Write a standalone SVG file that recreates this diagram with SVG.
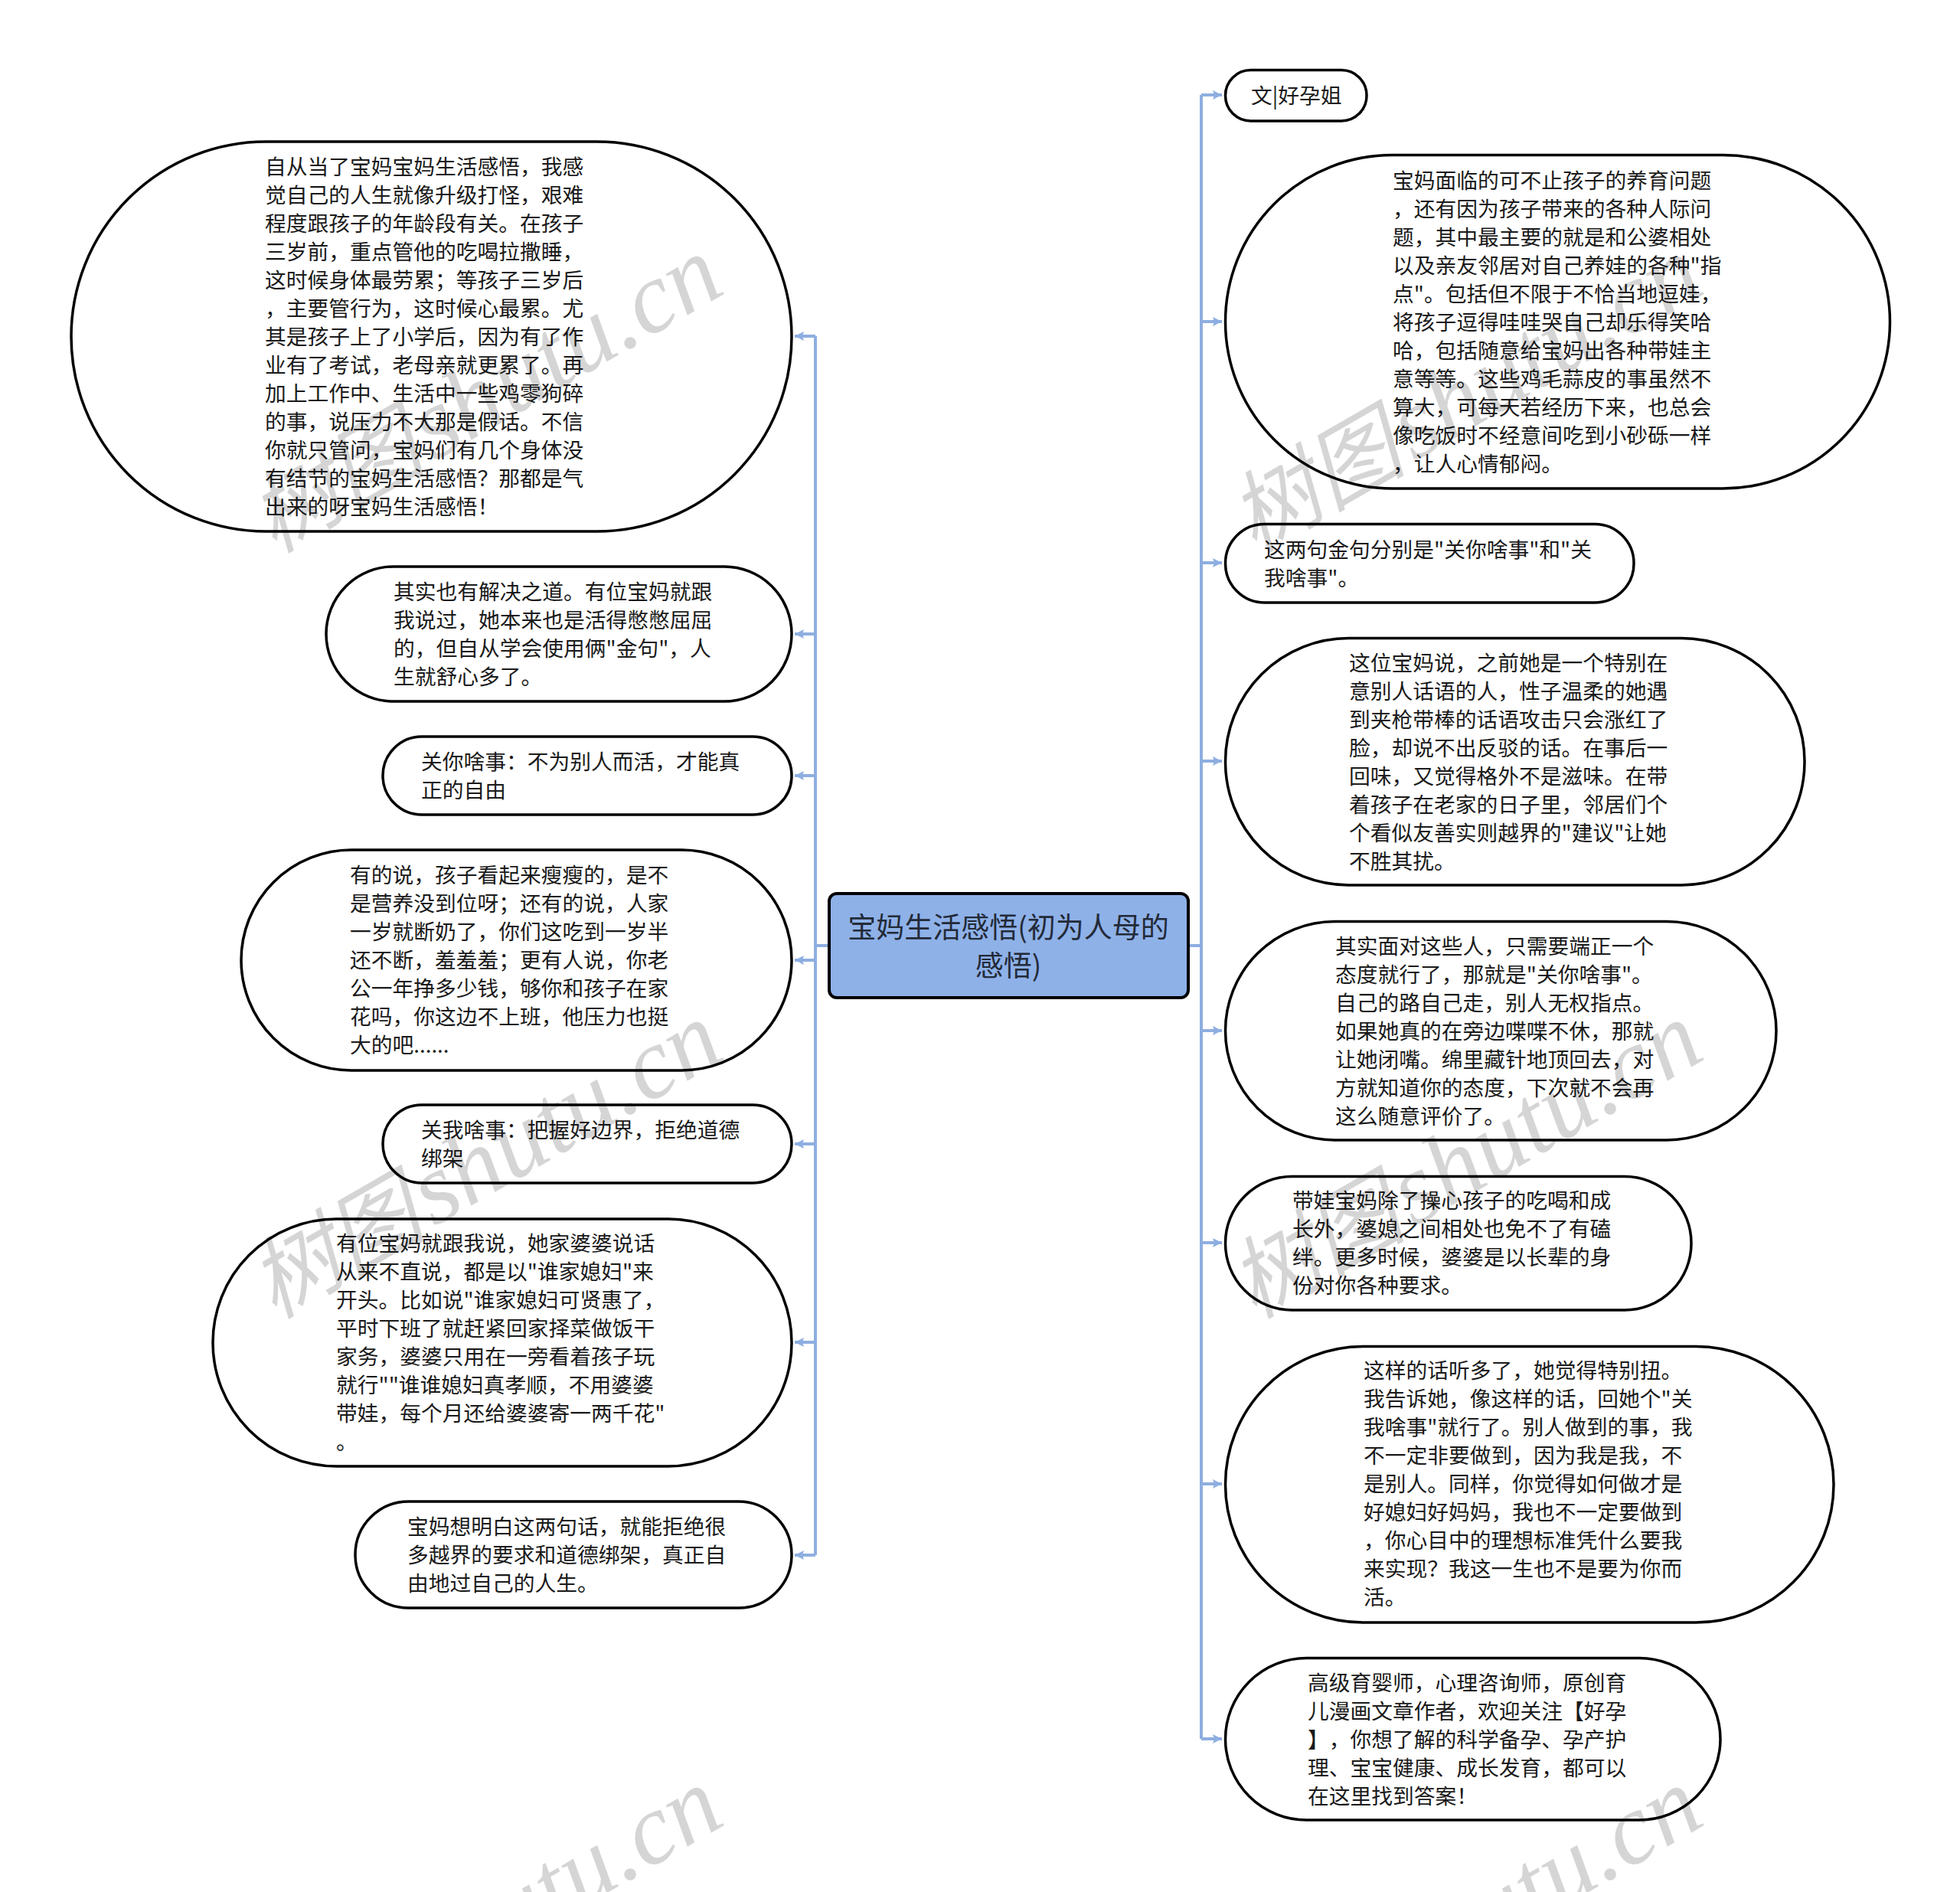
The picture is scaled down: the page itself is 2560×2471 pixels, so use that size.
<svg xmlns="http://www.w3.org/2000/svg" width="2560" height="2471" viewBox="0 0 2560 2471">
<style>
text{font-family:"Noto Sans CJK SC","Liberation Sans",sans-serif;text-spacing-trim:space-all;}
.n rect{fill:#fff;stroke:#000;stroke-width:3.5;}
.n text{font-size:27.75px;fill:#1a1a1a;transform:translateY(-1px);}
#root rect{fill:#8eb1e8;stroke:#000;stroke-width:4;}
#root text{font-size:37px;fill:#232a38;text-anchor:middle;}
#connectors path{fill:none;stroke:#8eaee0;stroke-width:4;}
#connectors path.a{marker-end:url(#ah);}
.wm text{font-family:"Liberation Serif","Noto Sans CJK SC",serif;font-style:italic;font-size:132px;fill:#000;fill-opacity:.165;text-anchor:end;}
.wm .c{font-size:116px;word-spacing:-20px;}
</style>
<defs><marker id="ah" markerUnits="userSpaceOnUse" markerWidth="14" markerHeight="14" refX="12" refY="7" orient="auto"><path d="M0 1L12 7L0 13L2 7Z" fill="#8eaee0"/></marker></defs>
<rect width="2560" height="2471" fill="#fff"/>
<g id="connectors">
<path d="M1082 1235H1065"/><path d="M1065 439V2031"/>
<path class="a" d="M1065 439H1038"/><path class="a" d="M1065 828H1038"/><path class="a" d="M1065 1013H1038"/><path class="a" d="M1065 1254H1038"/><path class="a" d="M1065 1494H1038"/><path class="a" d="M1065 1753H1038"/><path class="a" d="M1065 2031H1038"/>
<path d="M1552 1235H1569"/><path d="M1569 124V2271"/>
<path class="a" d="M1569 124H1596"/><path class="a" d="M1569 420H1596"/><path class="a" d="M1569 735H1596"/><path class="a" d="M1569 994H1596"/><path class="a" d="M1569 1346H1596"/><path class="a" d="M1569 1623H1596"/><path class="a" d="M1569 1938H1596"/><path class="a" d="M1569 2271H1596"/>
</g>
<g id="root"><rect x="1083" y="1167" width="469" height="136" rx="10"/><text x="1317" y="1224.5">宝妈生活感悟(初为人母的</text><text x="1317" y="1274.5">感悟)</text></g>
<g id="l1" class="n"><rect x="93" y="185" width="941" height="509" rx="254.5"/><text y="228.5"><tspan x="346">自从当了宝妈宝妈生活感悟，我感</tspan><tspan x="346" dy="37">觉自己的人生就像升级打怪，艰难</tspan><tspan x="346" dy="37">程度跟孩子的年龄段有关。在孩子</tspan><tspan x="346" dy="37">三岁前，重点管他的吃喝拉撒睡，</tspan><tspan x="346" dy="37">这时候身体最劳累；等孩子三岁后</tspan><tspan x="346" dy="37">，主要管行为，这时候心最累。尤</tspan><tspan x="346" dy="37">其是孩子上了小学后，因为有了作</tspan><tspan x="346" dy="37">业有了考试，老母亲就更累了。再</tspan><tspan x="346" dy="37">加上工作中、生活中一些鸡零狗碎</tspan><tspan x="346" dy="37">的事，说压力不大那是假话。不信</tspan><tspan x="346" dy="37">你就只管问，宝妈们有几个身体没</tspan><tspan x="346" dy="37">有结节的宝妈生活感悟？那都是气</tspan><tspan x="346" dy="37">出来的呀宝妈生活感悟！</tspan></text></g>
<g id="l2" class="n"><rect x="426" y="740" width="608" height="176" rx="88"/><text y="783.5"><tspan x="514">其实也有解决之道。有位宝妈就跟</tspan><tspan x="514" dy="37">我说过，她本来也是活得憋憋屈屈</tspan><tspan x="514" dy="37">的，但自从学会使用俩"金句"，人</tspan><tspan x="514" dy="37">生就舒心多了。</tspan></text></g>
<g id="l3" class="n"><rect x="500" y="962" width="534" height="102" rx="51"/><text y="1005.5"><tspan x="550">关你啥事：不为别人而活，才能真</tspan><tspan x="550" dy="37">正的自由</tspan></text></g>
<g id="l4" class="n"><rect x="315" y="1110" width="719" height="288" rx="144"/><text y="1153.5"><tspan x="457">有的说，孩子看起来瘦瘦的，是不</tspan><tspan x="457" dy="37">是营养没到位呀；还有的说，人家</tspan><tspan x="457" dy="37">一岁就断奶了，你们这吃到一岁半</tspan><tspan x="457" dy="37">还不断，羞羞羞；更有人说，你老</tspan><tspan x="457" dy="37">公一年挣多少钱，够你和孩子在家</tspan><tspan x="457" dy="37">花吗，你这边不上班，他压力也挺</tspan><tspan x="457" dy="37">大的吧......</tspan></text></g>
<g id="l5" class="n"><rect x="500" y="1443" width="534" height="102" rx="51"/><text y="1486.5"><tspan x="550">关我啥事：把握好边界，拒绝道德</tspan><tspan x="550" dy="37">绑架</tspan></text></g>
<g id="l6" class="n"><rect x="278" y="1592" width="756" height="323" rx="161.5"/><text y="1635"><tspan x="439">有位宝妈就跟我说，她家婆婆说话</tspan><tspan x="439" dy="37">从来不直说，都是以"谁家媳妇"来</tspan><tspan x="439" dy="37">开头。比如说"谁家媳妇可贤惠了，</tspan><tspan x="439" dy="37">平时下班了就赶紧回家择菜做饭干</tspan><tspan x="439" dy="37">家务，婆婆只用在一旁看着孩子玩</tspan><tspan x="439" dy="37">就行""谁谁媳妇真孝顺，不用婆婆</tspan><tspan x="439" dy="37">带娃，每个月还给婆婆寄一两千花"</tspan><tspan x="439" dy="37">。</tspan></text></g>
<g id="l7" class="n"><rect x="464" y="1961" width="570" height="139" rx="69.5"/><text y="2004.5"><tspan x="532">宝妈想明白这两句话，就能拒绝很</tspan><tspan x="532" dy="37">多越界的要求和道德绑架，真正自</tspan><tspan x="532" dy="37">由地过自己的人生。</tspan></text></g>
<g id="r1" class="n"><rect x="1600.5" y="91.5" width="184.5" height="66.5" rx="33"/><text x="1634" y="135.5">文|好孕姐</text></g>
<g id="r2" class="n"><rect x="1600.5" y="202.5" width="868" height="435.5" rx="218"/><text y="246.5"><tspan x="1819">宝妈面临的可不止孩子的养育问题</tspan><tspan x="1819" dy="37">，还有因为孩子带来的各种人际问</tspan><tspan x="1819" dy="37">题，其中最主要的就是和公婆相处</tspan><tspan x="1819" dy="37">以及亲友邻居对自己养娃的各种"指</tspan><tspan x="1819" dy="37">点"。包括但不限于不恰当地逗娃，</tspan><tspan x="1819" dy="37">将孩子逗得哇哇哭自己却乐得笑哈</tspan><tspan x="1819" dy="37">哈，包括随意给宝妈出各种带娃主</tspan><tspan x="1819" dy="37">意等等。这些鸡毛蒜皮的事虽然不</tspan><tspan x="1819" dy="37">算大，可每天若经历下来，也总会</tspan><tspan x="1819" dy="37">像吃饭时不经意间吃到小砂砾一样</tspan><tspan x="1819" dy="37">，让人心情郁闷。</tspan></text></g>
<g id="r3" class="n"><rect x="1600.5" y="684.5" width="533.5" height="102.5" rx="51"/><text y="728.5"><tspan x="1651">这两句金句分别是"关你啥事"和"关</tspan><tspan x="1651" dy="37">我啥事"。</tspan></text></g>
<g id="r4" class="n"><rect x="1600.5" y="833.5" width="756.5" height="322.5" rx="161"/><text y="876.5"><tspan x="1762">这位宝妈说，之前她是一个特别在</tspan><tspan x="1762" dy="37">意别人话语的人，性子温柔的她遇</tspan><tspan x="1762" dy="37">到夹枪带棒的话语攻击只会涨红了</tspan><tspan x="1762" dy="37">脸，却说不出反驳的话。在事后一</tspan><tspan x="1762" dy="37">回味，又觉得格外不是滋味。在带</tspan><tspan x="1762" dy="37">着孩子在老家的日子里，邻居们个</tspan><tspan x="1762" dy="37">个看似友善实则越界的"建议"让她</tspan><tspan x="1762" dy="37">不胜其扰。</tspan></text></g>
<g id="r5" class="n"><rect x="1600.5" y="1203.5" width="719.5" height="285.5" rx="143"/><text y="1247"><tspan x="1744">其实面对这些人，只需要端正一个</tspan><tspan x="1744" dy="37">态度就行了，那就是"关你啥事"。</tspan><tspan x="1744" dy="37">自己的路自己走，别人无权指点。</tspan><tspan x="1744" dy="37">如果她真的在旁边喋喋不休，那就</tspan><tspan x="1744" dy="37">让她闭嘴。绵里藏针地顶回去，对</tspan><tspan x="1744" dy="37">方就知道你的态度，下次就不会再</tspan><tspan x="1744" dy="37">这么随意评价了。</tspan></text></g>
<g id="r6" class="n"><rect x="1600.5" y="1536.5" width="608.5" height="174.5" rx="87"/><text y="1578.5"><tspan x="1688">带娃宝妈除了操心孩子的吃喝和成</tspan><tspan x="1688" dy="37">长外，婆媳之间相处也免不了有磕</tspan><tspan x="1688" dy="37">绊。更多时候，婆婆是以长辈的身</tspan><tspan x="1688" dy="37">份对你各种要求。</tspan></text></g>
<g id="r7" class="n"><rect x="1600.5" y="1758.5" width="794.5" height="360.5" rx="180"/><text y="1800.5"><tspan x="1781">这样的话听多了，她觉得特别扭。</tspan><tspan x="1781" dy="37">我告诉她，像这样的话，回她个"关</tspan><tspan x="1781" dy="37">我啥事"就行了。别人做到的事，我</tspan><tspan x="1781" dy="37">不一定非要做到，因为我是我，不</tspan><tspan x="1781" dy="37">是别人。同样，你觉得如何做才是</tspan><tspan x="1781" dy="37">好媳妇好妈妈，我也不一定要做到</tspan><tspan x="1781" dy="37">，你心目中的理想标准凭什么要我</tspan><tspan x="1781" dy="37">来实现？我这一生也不是要为你而</tspan><tspan x="1781" dy="37">活。</tspan></text></g>
<g id="r8" class="n"><rect x="1600.5" y="2165.5" width="646.5" height="211.5" rx="106"/><text y="2208.5"><tspan x="1708">高级育婴师，心理咨询师，原创育</tspan><tspan x="1708" dy="37">儿漫画文章作者，欢迎关注【好孕</tspan><tspan x="1708" dy="37">】，你想了解的科学备孕、孕产护</tspan><tspan x="1708" dy="37">理、宝宝健康、成长发育，都可以</tspan><tspan x="1708" dy="37">在这里找到答案！</tspan></text></g>
<g class="wm">
<text transform="translate(951 381) rotate(-30)"><tspan class="c">树图 </tspan>shutu.cn</text>
<text transform="translate(951 1381) rotate(-30)"><tspan class="c">树图 </tspan>shutu.cn</text>
<text transform="translate(951 2381) rotate(-30)"><tspan class="c">树图 </tspan>shutu.cn</text>
<text transform="translate(2231 381) rotate(-30)"><tspan class="c">树图 </tspan>shutu.cn</text>
<text transform="translate(2231 1381) rotate(-30)"><tspan class="c">树图 </tspan>shutu.cn</text>
<text transform="translate(2231 2381) rotate(-30)"><tspan class="c">树图 </tspan>shutu.cn</text>
</g>
</svg>
